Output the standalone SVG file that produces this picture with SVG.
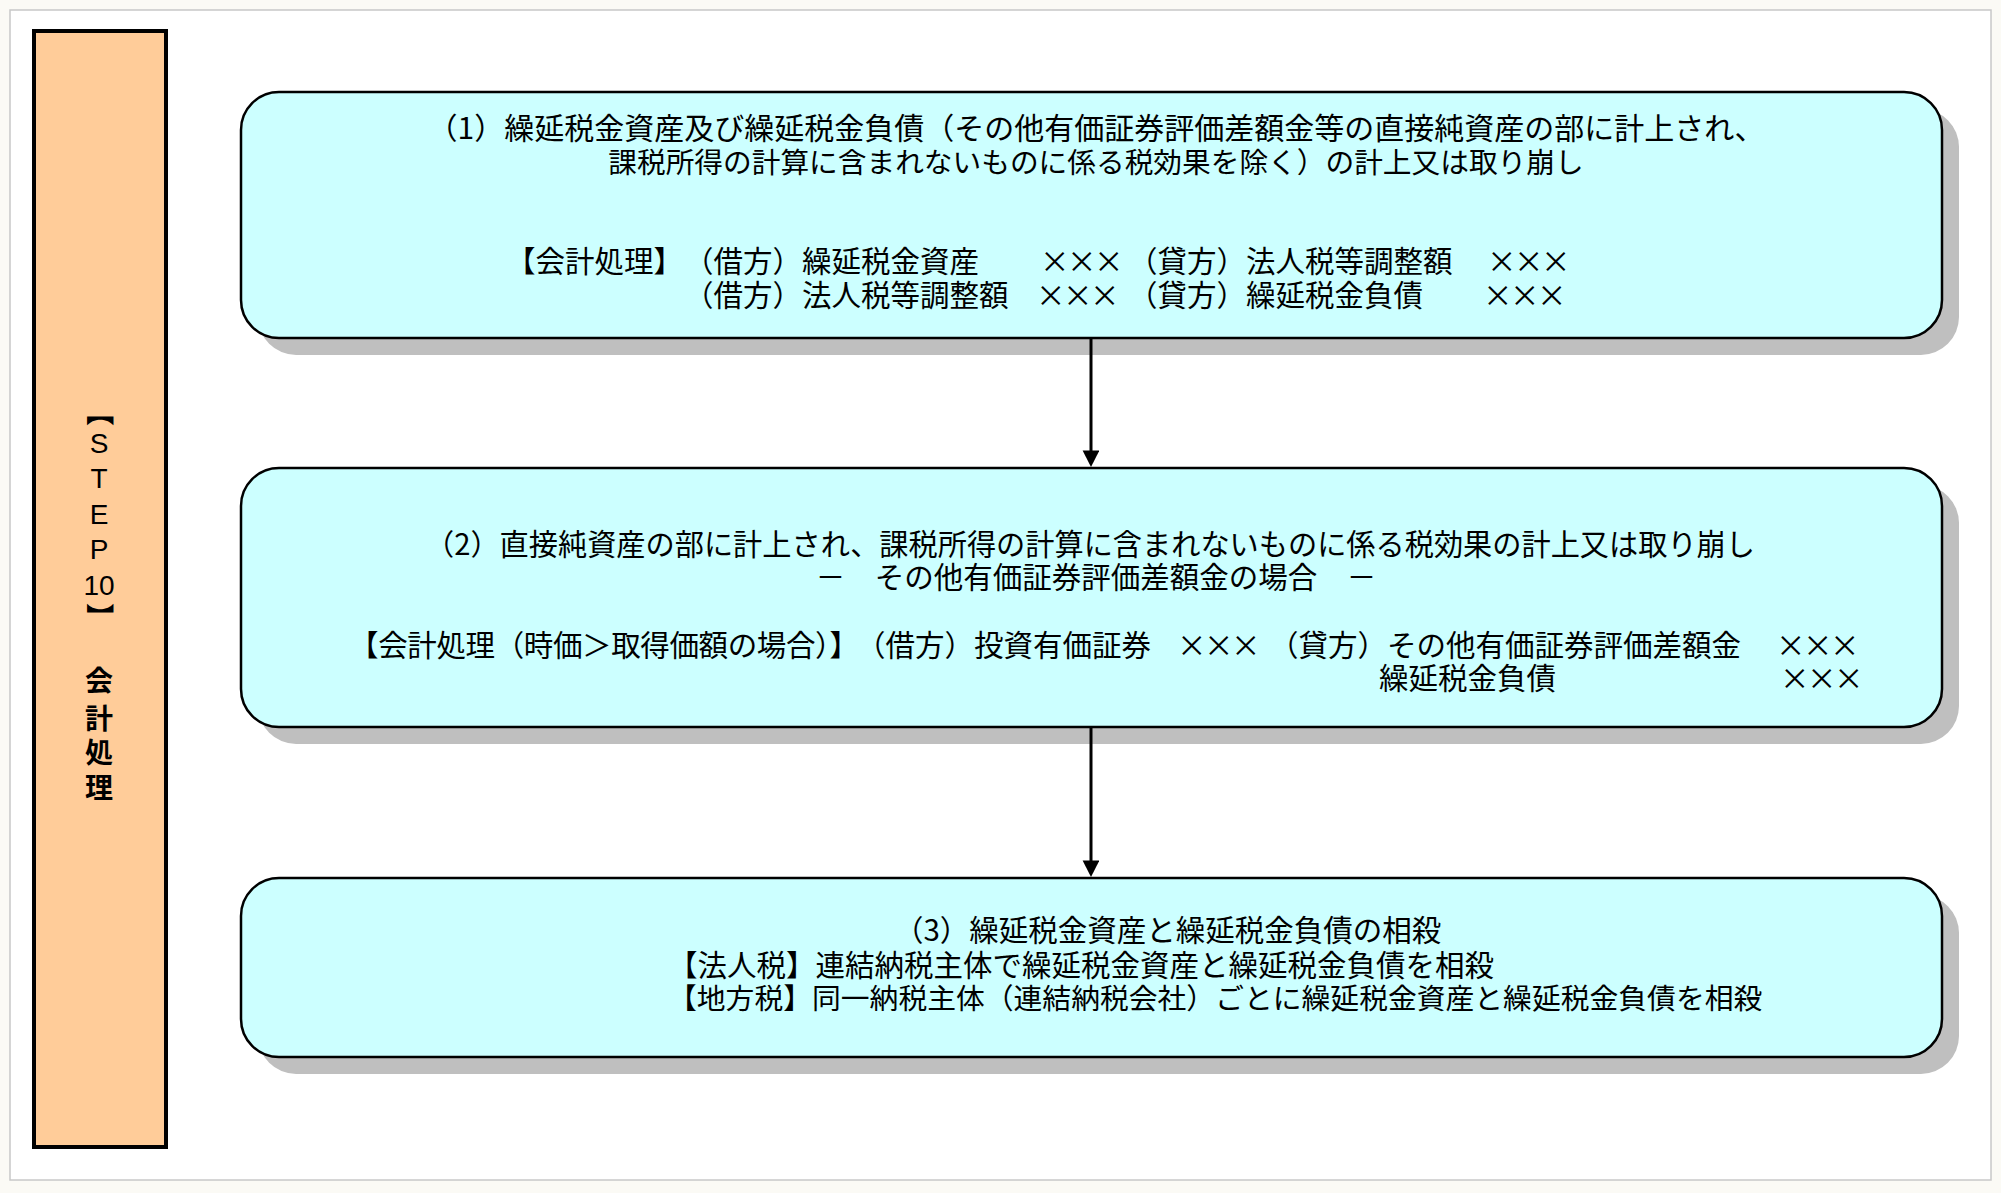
<svg xmlns="http://www.w3.org/2000/svg" width="2001" height="1193" viewBox="0 0 2001 1193">
<defs>
<style>
.t{font-family:"Noto Sans CJK JP","Liberation Sans",sans-serif;font-size:29.5px;fill:#000}
.m{text-anchor:middle}
.bar{font-family:"Noto Sans CJK JP",sans-serif;font-size:28px;font-weight:bold;fill:#000}
.lat{font-family:"Liberation Sans","Noto Sans CJK JP",sans-serif;font-weight:normal}
.box{fill:#CCFFFF;stroke:#000;stroke-width:2.5}
.sh{fill:#BFBFBF}
.con{stroke:#000;stroke-width:3;fill:none}
</style>
<marker id="ah" markerWidth="6" markerHeight="6" refX="3.2" refY="2.8" orient="auto" markerUnits="strokeWidth">
<path d="M0,0 L5.5,2.8 L0,5.6 Z" fill="#000"/>
</marker>
</defs>
<rect x="0" y="0" width="2001" height="1193" fill="#FBFAF5"/>
<rect x="10" y="10" width="1981" height="1170" fill="#FFFFFF" stroke="#C8C8C8" stroke-width="1.5"/>

<g id="step-bar">
<rect x="34" y="31" width="132" height="1116" fill="#FFCC99" stroke="#000" stroke-width="4"/>
<text class="bar"><tspan x="88.5" y="398" rotate="90">【</tspan><tspan class="lat" x="89.7" y="453">S</tspan><tspan class="lat" x="90.4" y="488">T</tspan><tspan class="lat" x="89.7" y="524">E</tspan><tspan class="lat" x="89.7" y="559">P</tspan><tspan class="lat" x="83.4" y="595">10</tspan><tspan x="88.5" y="603" rotate="90">】</tspan><tspan x="85" y="691">会</tspan><tspan x="85" y="729">計</tspan><tspan x="85" y="763">処</tspan><tspan x="85" y="798">理</tspan></text>
</g>

<g id="node1">
<rect class="sh" x="258" y="109" width="1701" height="246" rx="38"/>
<rect class="box" x="241" y="92" width="1701" height="246" rx="38"/>
<text class="t m"><tspan x="1096" y="139" font-size="30">（1）繰延税金資産及び繰延税金負債（その他有価証券評価差額金等の直接純資産の部に計上され、</tspan><tspan x="1096" y="173" font-size="28.7">課税所得の計算に含まれないものに係る税効果を除く）の計上又は取り崩し</tspan></text>
<text class="t"><tspan x="506" y="272">【会計処理】</tspan><tspan x="684" y="272">（借方）繰延税金資産</tspan><tspan x="1040 1067 1094" y="272">×××</tspan><tspan x="1128" y="272">（貸方）法人税等調整額</tspan><tspan x="1487 1514 1541" y="272">×××</tspan><tspan x="684" y="306">（借方）法人税等調整額</tspan><tspan x="1036 1063 1090" y="306">×××</tspan><tspan x="1128" y="306">（貸方）繰延税金負債</tspan><tspan x="1483 1510 1537" y="306">×××</tspan></text>
</g>

<g id="node2">
<rect class="sh" x="258" y="485" width="1701" height="259" rx="38"/>
<rect class="box" x="241" y="468" width="1701" height="259" rx="38"/>
<text class="t m"><tspan x="1090" y="555" font-size="29.2">（2）直接純資産の部に計上され、課税所得の計算に含まれないものに係る税効果の計上又は取り崩し</tspan><tspan x="1096" y="588">－　その他有価証券評価差額金の場合　－</tspan></text>
<text class="t"><tspan x="349" y="656" textLength="510">【会計処理（時価＞取得価額の場合）】</tspan><tspan x="856" y="656">（借方）投資有価証券</tspan><tspan x="1177 1204 1231" y="656">×××</tspan><tspan x="1269" y="656">（貸方）その他有価証券評価差額金</tspan><tspan x="1776 1803 1830" y="656">×××</tspan><tspan x="1379" y="689">繰延税金負債</tspan><tspan x="1780 1807 1834" y="689">×××</tspan></text>
</g>

<g id="node3">
<rect class="sh" x="258" y="895" width="1701" height="179" rx="38"/>
<rect class="box" x="241" y="878" width="1701" height="179" rx="38"/>
<text class="t"><tspan x="894" y="941">（3）繰延税金資産と繰延税金負債の相殺</tspan><tspan x="668" y="976">【法人税】連結納税主体で繰延税金資産と繰延税金負債を相殺</tspan><tspan x="668" y="1009" font-size="28.8">【地方税】同一納税主体（連結納税会社）ごとに繰延税金資産と繰延税金負債を相殺</tspan></text>
</g>

<g id="connectors">
<line class="con" x1="1091" y1="339" x2="1091" y2="460" marker-end="url(#ah)"/>
<line class="con" x1="1091" y1="728" x2="1091" y2="870" marker-end="url(#ah)"/>
</g>
</svg>
